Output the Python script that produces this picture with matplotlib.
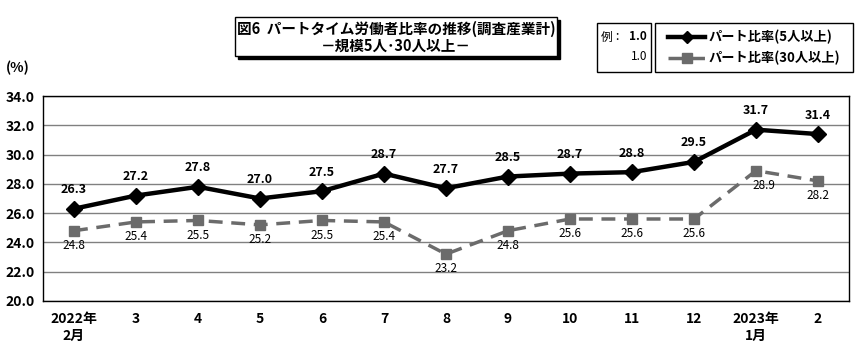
import matplotlib.pyplot as plt
from matplotlib.patches import Rectangle

plt.rcParams['font.family'] = ['Noto Sans CJK JP', 'DejaVu Sans']

# 月のラベル
months = ['2022年\n2月', '3', '4', '5', '6', '7', '8', '9', '10', '11', '12', '2023年\n1月', '2']
# パート比率（5人以上）
part5 = [26.3, 27.2, 27.8, 27.0, 27.5, 28.7, 27.7, 28.5, 28.7, 28.8, 29.5, 31.7, 31.4]
# パート比率（30人以上）
part30 = [24.8, 25.4, 25.5, 25.2, 25.5, 25.4, 23.2, 24.8, 25.6, 25.6, 25.6, 28.9, 28.2]
yticks = [20.0, 22.0, 24.0, 26.0, 28.0, 30.0, 32.0, 34.0]

fig = plt.figure(figsize=(8.6, 3.54), dpi=100)
ax = fig.add_axes([43 / 860, 1 - 301 / 354, (849 - 43) / 860, (301 - 96) / 354])

x = list(range(len(months)))
ax.plot(x, part30, color='#6b6b6b', lw=2.5, ls=(0, (4, 2.5)), marker='s', ms=7, zorder=3)
ax.plot(x, part5, color='black', lw=3.2, marker='D', ms=8, zorder=4)

for i, v in enumerate(part5):
    ax.annotate(f'{v:.1f}', (i, v), xytext=(0, 9), textcoords='offset points',
                ha='center', va='bottom', fontsize=9, fontweight='bold')
for i, v in enumerate(part30):
    dx = 6 if i == 11 else 0
    ax.annotate(f'{v:.1f}', (i, v), xytext=(dx, -6), textcoords='offset points',
                ha='center', va='top', fontsize=8.5)

ax.set_xlim(-0.5, len(months) - 0.5)
ax.set_ylim(20, 34)
ax.set_yticks(yticks)
ax.set_yticklabels([f'{t:.1f}' for t in yticks], fontsize=10, fontweight='bold')
ax.set_xticks(x)
ax.set_xticklabels(months, fontsize=10, fontweight='bold', linespacing=1.3, va='top')
ax.tick_params(length=0, pad=6)
ax.tick_params(axis='x', pad=8)
ax.grid(axis='y', color='#808080', lw=1)
ax.set_axisbelow(True)
for s in ax.spines.values():
    s.set_color('black')
    s.set_linewidth(1)

fig.text(6 / 860, 1 - 68 / 354, '(%)', fontsize=10, fontweight='bold', va='center')

# 枠
def box(x0, y0, x1, y1, shadow=False):
    if shadow:
        fig.patches.append(Rectangle((x0 / 860 + 3 / 860, 1 - y1 / 354 - 3 / 354),
                                     (x1 - x0) / 860, (y1 - y0) / 354,
                                     transform=fig.transFigure, facecolor='black',
                                     edgecolor='black', zorder=1))
    fig.patches.append(Rectangle((x0 / 860, 1 - y1 / 354), (x1 - x0) / 860, (y1 - y0) / 354,
                                 transform=fig.transFigure, facecolor='white',
                                 edgecolor='black', lw=1, zorder=2))

box(235, 17, 557, 56, shadow=True)
fig.text(396 / 860, 1 - 29 / 354, '図6  パートタイム労働者比率の推移(調査産業計)',
         ha='center', va='center', fontsize=10.5, fontweight='bold', zorder=5)
fig.text(396 / 860, 1 - 46 / 354, '－規模5人･30人以上－',
         ha='center', va='center', fontsize=10.5, fontweight='bold', zorder=5)

box(597, 23, 651, 72)
fig.text(601 / 860, 1 - 37 / 354, '例：', ha='left', va='center', fontsize=8.5, zorder=5)
fig.text(647 / 860, 1 - 37 / 354, '1.0', ha='right', va='center', fontsize=8.5,
         fontweight='bold', zorder=5)
fig.text(647 / 860, 1 - 57 / 354, '1.0', ha='right', va='center', fontsize=8.5, zorder=5)

box(655, 23, 853, 72)
fig.lines.append(plt.Line2D([668 / 860, 705 / 860], [1 - 37 / 354] * 2, transform=fig.transFigure,
                            color='black', lw=3.2, zorder=6))
fig.lines.append(plt.Line2D([686.5 / 860], [1 - 37 / 354], transform=fig.transFigure,
                            color='black', marker='D', ms=6, zorder=7))
fig.lines.append(plt.Line2D([668 / 860, 705 / 860], [1 - 58 / 354] * 2, transform=fig.transFigure,
                            color='#6b6b6b', lw=2.5, ls=(0, (4, 2.5)), zorder=6))
fig.lines.append(plt.Line2D([686.5 / 860], [1 - 58 / 354], transform=fig.transFigure,
                            color='#6b6b6b', marker='s', ms=7, zorder=7))
fig.text(709 / 860, 1 - 37 / 354, 'パート比率(5人以上)', ha='left', va='center',
         fontsize=9.5, fontweight='bold', zorder=5)
fig.text(709 / 860, 1 - 58 / 354, 'パート比率(30人以上)', ha='left', va='center',
         fontsize=9.5, fontweight='bold', zorder=5)

fig.savefig('out.png', dpi=100)
